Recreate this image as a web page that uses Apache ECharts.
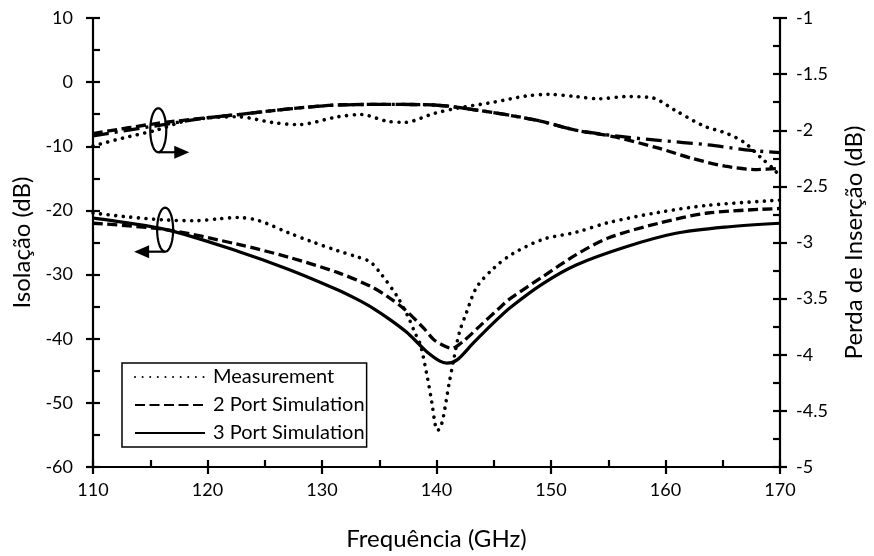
<!DOCTYPE html>
<html>
<head>
<meta charset="utf-8">
<script src="https://cdn.jsdelivr.net/npm/echarts@6/dist/echarts.min.js"></script>
<style>
  html, body { margin: 0; padding: 0; background: #fff; }
  #chart { width: 874px; height: 556px; }
</style>
</head>
<body>
<div id="chart"></div>
<script>
// Isolation (left axis, dB)
const isoMeasFreq = [110, 113, 116.4, 119, 121, 122.7, 124.5, 127.1, 129, 131.4, 133, 134.2, 135.2, 136.6, 137.5, 138.1, 138.6, 139.2, 139.6, 139.9, 140.1, 140.4, 140.6, 141.1, 141.5, 142.0, 142.6, 143.5, 145.0, 146.7, 149.3, 152.2, 155.0, 159.4, 163.7, 170];
const isoMeasDb   = [-20.4, -21.0, -21.5, -21.6, -21.3, -21.1, -21.6, -23.5, -24.8, -26.3, -27.2, -28.0, -30.0, -33.5, -36.5, -39.0, -41.0, -46.0, -50.0, -53.5, -54.3, -53.5, -52.2, -47.0, -43.3, -39.0, -36.0, -32.0, -29.0, -26.7, -24.5, -23.4, -21.9, -20.3, -19.2, -18.4];

const iso2pFreq = [110, 116.4, 122.7, 127.1, 131.4, 134.2, 135.7, 137.2, 138.9, 139.8, 140.9, 141.3, 142.4, 143.8, 145.5, 146.4, 149.3, 152.2, 155.0, 159.4, 163.7, 170];
const iso2pDb   = [-22.0, -23.0, -25.3, -27.3, -29.7, -31.8, -33.4, -35.4, -38.4, -40.2, -41.3, -41.5, -40.3, -38.0, -35.2, -33.8, -30.3, -26.9, -24.3, -22.0, -20.4, -19.7];

const iso3pFreq = [110, 116.4, 122.7, 127.1, 131.4, 133.0, 134.5, 136.0, 137.4, 138.5, 139.2, 140.3, 140.9, 141.8, 143.2, 145.0, 146.4, 149.3, 152.2, 156.5, 160.8, 165.2, 170];
const iso3pDb   = [-21.2, -23.0, -26.4, -29.2, -32.4, -33.8, -35.3, -37.1, -39.0, -40.9, -42.1, -43.5, -43.8, -43.3, -40.7, -37.5, -35.2, -31.4, -28.5, -25.7, -23.6, -22.6, -22.0];

// Insertion loss (right axis, dB)
const ilMeasFreq = [110, 112.6, 115.5, 118.4, 122.7, 125.6, 127.9, 131.4, 133.4, 135.7, 137.2, 139.8, 142.0, 145.0, 147.8, 149.8, 152.2, 154.2, 156.5, 158.8, 160.8, 163.3, 165.4, 166.9, 168.4, 169.5, 170];
const ilMeasDb   = [-2.14, -2.07, -2.00, -1.91, -1.88, -1.93, -1.95, -1.88, -1.86, -1.92, -1.93, -1.85, -1.80, -1.75, -1.695, -1.68, -1.70, -1.72, -1.70, -1.71, -1.82, -1.96, -2.03, -2.11, -2.25, -2.35, -2.42];

const il2pFreq = [110, 115.5, 119.9, 122.7, 127.1, 131.4, 135.7, 139.8, 143.5, 148.7, 152.2, 155.6, 159.4, 162.3, 165.2, 168.0, 170];
const il2pDb   = [-2.03, -1.94, -1.89, -1.86, -1.81, -1.775, -1.77, -1.775, -1.82, -1.91, -2.00, -2.06, -2.16, -2.25, -2.32, -2.35, -2.34];

const il3pFreq = [110, 115.5, 119.9, 122.7, 127.1, 131.4, 135.7, 139.8, 143.5, 148.7, 152.2, 155.6, 159.4, 163.7, 167.5, 170];
const il3pDb   = [-2.05, -1.96, -1.89, -1.86, -1.81, -1.775, -1.77, -1.775, -1.82, -1.91, -2.00, -2.05, -2.09, -2.13, -2.18, -2.20];

// Legend names (a zero-width non-joiner keeps "ti" from forming a ligature)
const seriesNames = ['Measurement', '2 Port Simula\u200Ction', '3 Port Simula\u200Ction'];

// Annotation anchors (frequency, isolation dB): ellipse centres marking each group
const markTop = [115.7, -7.5];
const markBottom = [116.3, -23.0];

const FONT = 'Lato, "Open Sans", sans-serif';
const BLACK = '#000';

function pairs(xs, ys) { return xs.map((x, i) => [x, ys[i]]); }

const dotted = { color: BLACK, width: 3.6, type: [0.01, 7.6], cap: 'round' };
const dashed = { color: BLACK, width: 3.3, type: [10, 4.5], cap: 'butt' };
const solid  = { color: BLACK, width: 3.2, type: 'solid' };
const dashDot = { color: BLACK, width: 3.3, type: [16, 6, 3, 6], cap: 'butt' };

function lineSeries(name, data, yIdx, style) {
  return {
    name: name,
    type: 'line',
    xAxisIndex: 0,
    yAxisIndex: yIdx,
    data: data,
    symbol: 'none',
    smooth: 0.3,
    lineStyle: style,
    itemStyle: { color: BLACK },
    emphasis: { disabled: true },
    z: 3
  };
}

const axisLineStyle = { show: true, onZero: false, lineStyle: { color: BLACK, width: 2.2 } };
const tickLine = { color: BLACK, width: 2.2 };

const chart = echarts.init(document.getElementById('chart'));

chart.setOption({
  animation: false,
  backgroundColor: '#fff',
  grid: { left: 93, right: 88, top: 18, bottom: 89, containLabel: false },
  legend: {
    data: seriesNames,
    orient: 'vertical',
    left: 122,
    top: 363,
    padding: [4, 2, 4, 12],
    itemGap: 8,
    itemWidth: 70,
    itemHeight: 14,
    borderColor: BLACK,
    borderWidth: 1.5,
    backgroundColor: '#fff',
    selectedMode: false,
    itemStyle: { opacity: 0, color: 'transparent', borderWidth: 0 },
    textStyle: { fontFamily: FONT, fontSize: 20, lineHeight: 20, color: BLACK, padding: [0, 0, 0, 3] }
  },
  xAxis: [
    {
      type: 'value', min: 110, max: 170, interval: 10,
      name: 'Frequência (GHz)', nameLocation: 'middle', nameGap: 60,
      nameTextStyle: { fontFamily: FONT, fontSize: 24, color: BLACK },
      axisLine: axisLineStyle,
      axisTick: { show: true, inside: false, length: 7, lineStyle: tickLine },
      axisLabel: { fontFamily: FONT, fontSize: 18, color: BLACK, margin: 14 },
      splitLine: { show: false }
    },
    {
      type: 'value', min: 110, max: 170, interval: 10, position: 'bottom',
      axisLine: { show: false, onZero: false },
      axisTick: { show: true, inside: true, length: 7, lineStyle: tickLine },
      minorTick: { show: true, splitNumber: 2, length: 7, lineStyle: tickLine },
      axisLabel: { show: false },
      splitLine: { show: false }
    }
  ],
  yAxis: [
    {
      type: 'value', min: -60, max: 10, interval: 10, position: 'left',
      name: 'Isolação (dB)', nameLocation: 'middle', nameGap: 54, nameRotate: 90,
      nameTextStyle: { fontFamily: FONT, fontSize: 24, color: BLACK },
      axisLine: axisLineStyle,
      axisTick: { show: true, inside: false, length: 7, lineStyle: tickLine },
      axisLabel: { fontFamily: FONT, fontSize: 18, color: BLACK, margin: 20 },
      splitLine: { show: false }
    },
    {
      type: 'value', min: -60, max: 10, interval: 10, position: 'left',
      axisLine: { show: false, onZero: false },
      axisTick: { show: true, inside: true, length: 7, lineStyle: tickLine },
      minorTick: { show: true, splitNumber: 2, length: 7, lineStyle: tickLine },
      axisLabel: { show: false },
      splitLine: { show: false }
    },
    {
      type: 'value', min: -5, max: -1, interval: 0.5, position: 'right',
      name: 'Perda de Inserção (dB)', nameLocation: 'middle', nameGap: 62, nameRotate: 90,
      nameTextStyle: { fontFamily: FONT, fontSize: 24, color: BLACK },
      axisLine: axisLineStyle,
      axisTick: { show: true, inside: false, length: 7, lineStyle: tickLine },
      axisLabel: { fontFamily: FONT, fontSize: 18, color: BLACK, margin: 16 },
      splitLine: { show: false }
    },
    {
      type: 'value', min: -5, max: -1, interval: 0.5, position: 'right',
      axisLine: { show: false, onZero: false },
      axisTick: { show: true, inside: true, length: 7, lineStyle: tickLine },
      minorTick: { show: true, splitNumber: 2, length: 7, lineStyle: tickLine },
      axisLabel: { show: false },
      splitLine: { show: false }
    }
  ],
  series: [
    lineSeries(seriesNames[0], pairs(isoMeasFreq, isoMeasDb), 0, dotted),
    lineSeries(seriesNames[1], pairs(iso2pFreq, iso2pDb), 0, dashed),
    lineSeries(seriesNames[2], pairs(iso3pFreq, iso3pDb), 0, solid),
    lineSeries('IL Measurement', pairs(ilMeasFreq, ilMeasDb), 2, dotted),
    lineSeries('IL 2 Port Simulation', pairs(il2pFreq, il2pDb), 2, dashed),
    lineSeries('IL 3 Port Simulation', pairs(il3pFreq, il3pDb), 2, dashDot)
  ]
});

// Group markers: an ellipse around the curves with an arrow pointing to the axis they use
function ellipsePoints(cx, cy, rx, ry) {
  const pts = [];
  for (let i = 0; i < 60; i++) {
    const a = (i / 60) * Math.PI * 2;
    pts.push([cx + rx * Math.cos(a), cy + ry * Math.sin(a)]);
  }
  return pts;
}

function marker(anchor, dir) {
  const c = chart.convertToPixel({ xAxisIndex: 0, yAxisIndex: 0 }, anchor);
  const rx = 8, ry = 22;
  const by = c[1] + ry;
  const shaft = 16, head = 15, half = 6.5;
  const xEnd = c[0] + dir * shaft;
  const tip = xEnd + dir * head;
  const stroke = { stroke: BLACK, lineWidth: 2.2, fill: null };
  return [
    { type: 'polygon', shape: { points: ellipsePoints(c[0], c[1], rx, ry) }, style: stroke, z: 10, silent: true },
    { type: 'line', shape: { x1: c[0], y1: by, x2: xEnd + dir * 1, y2: by }, style: { stroke: BLACK, lineWidth: 2.2 }, z: 10, silent: true },
    { type: 'polygon', shape: { points: [[tip, by], [xEnd, by - half], [xEnd, by + half]] }, style: { fill: BLACK }, z: 10, silent: true }
  ];
}

chart.setOption({
  graphic: [].concat(marker(markTop, 1), marker(markBottom, -1))
});
</script>
</body>
</html>
